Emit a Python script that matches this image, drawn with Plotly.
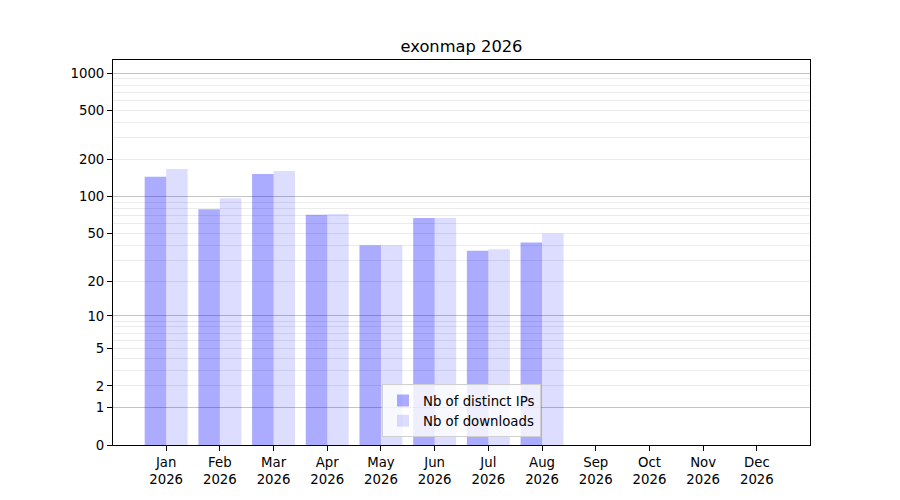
import plotly.graph_objects as go

months = ['Jan', 'Feb', 'Mar', 'Apr', 'May', 'Jun', 'Jul', 'Aug', 'Sep', 'Oct', 'Nov', 'Dec']
year = 2026
distinct_ips = [145, 79, 153, 71, 40, 67, 36, 42, 0, 0, 0, 0]
downloads = [168, 97, 162, 72, 40, 67, 37, 50, 0, 0, 0, 0]
ytick_values = [0, 1, 2, 5, 10, 20, 50, 100, 200, 500, 1000]
major_grid_values = [1, 10, 100, 1000]
minor_grid_values = [2, 3, 4, 5, 6, 7, 8, 9,
                     20, 30, 40, 50, 60, 70, 80, 90,
                     200, 300, 400, 500, 600, 700, 800, 900]

FONT = 'DejaVu Sans'
# page body has an 8px margin, so the figure is 8px smaller than the window
W, H = 892, 492
x = list(range(len(months)))
# symlog-like scale: a log axis shifted by one, bars start at 1 (= value 0)
yrange = [0, 3.107]

fig = go.Figure()
fig.add_trace(go.Bar(
    name='Nb of distinct IPs', x=x, y=distinct_ips, base=1,
    marker=dict(color='rgba(0,0,255,0.33)', line=dict(width=0)),
))
fig.add_trace(go.Bar(
    name='Nb of downloads', x=x, y=downloads, base=1,
    marker=dict(color='rgba(0,0,255,0.135)', line=dict(width=0)),
))
# invisible helper so the grid-only overlay axis gets drawn
fig.add_trace(go.Scatter(
    x=[0], y=[1], yaxis='y2', mode='markers', marker=dict(opacity=0),
    showlegend=False, hoverinfo='skip',
))

fig.update_layout(
    width=W, height=H,
    margin=dict(l=105, r=90, t=52, b=55),
    paper_bgcolor='white', plot_bgcolor='white',
    font=dict(family=FONT, size=13.3, color='black'),
    barmode='group', bargap=0.2, bargroupgap=0,
    title=dict(text=f'exonmap {year}', x=0.5, xref='paper', xanchor='center',
               y=1 - 38 / H, yanchor='middle', font=dict(size=16.3)),
    xaxis=dict(
        range=[-0.99, 11.99],
        tickmode='array', tickvals=x,
        ticktext=[f'{m}<br>{year}' for m in months],
        ticks='outside', ticklen=5, tickcolor='black',
        showline=True, linecolor='black', linewidth=1, mirror=True,
        showgrid=False, zeroline=False,
    ),
    yaxis=dict(
        type='log', range=yrange,
        tickmode='array', tickvals=[v + 1 for v in ytick_values],
        ticktext=[str(v) for v in ytick_values],
        ticks='outside', ticklen=5, tickcolor='black',
        showline=True, linecolor='black', linewidth=1, mirror=True,
        showgrid=False, zeroline=False,
        minor=dict(tickmode='array', tickvals=[v + 1 for v in minor_grid_values],
                   showgrid=True, gridcolor='#ebebeb', gridwidth=1, ticks=''),
    ),
    yaxis2=dict(
        type='log', range=yrange, overlaying='y', side='left',
        tickmode='array', tickvals=[v + 1 for v in major_grid_values],
        showticklabels=False, ticks='', showline=False, zeroline=False,
        showgrid=True, gridcolor='#c4c4c4', gridwidth=1,
    ),
    legend=dict(
        x=0.5, xanchor='center', y=0.02, yanchor='bottom',
        bgcolor='rgba(255,255,255,0.8)', bordercolor='#d0d0d0', borderwidth=1,
        font=dict(size=13.3),
    ),
)

fig.write_html('out.html')
